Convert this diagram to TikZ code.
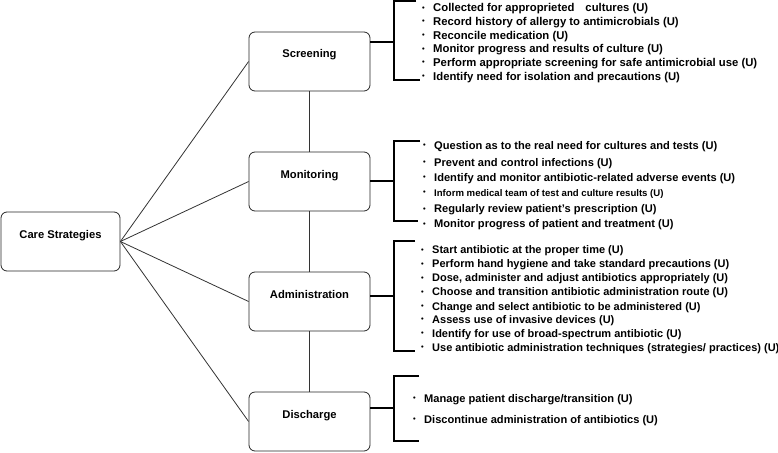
\documentclass[tikz,border=0pt]{standalone}
\usepackage{fontspec}
\setmainfont{Liberation Sans}
\tikzstyle{stage} = [rectangle, draw=black!85, line width=0.8pt, rounded corners=6pt, minimum width=121pt, minimum height=59pt, font=\bfseries\fontsize{11.2}{13}\selectfont, text height=8pt, text depth=15pt]
\tikzstyle{link} = [draw=black!80, line width=0.8pt]
\tikzstyle{bracket} = [line width=1.5pt]
\tikzstyle{items} = [anchor=north west, inner sep=0pt, align=left, font=\bfseries\fontsize{11.3}{13.7}\selectfont]
\newcommand{\itm}{\makebox[11pt][l]{\raisebox{1.5pt}{\fontsize{7.5}{7.5}\selectfont\textbullet}}}

\begin{document}
\begin{tikzpicture}[x=1pt,y=-1pt,node distance=120pt]
  \useasboundingbox (0,0) rectangle (778,452);
  \node[stage, minimum width=119pt] (CS) at (60.5,241.5) {Care Strategies};
  \node[stage] (Scr) at (309.5,61.5) {Screening};
  \node[stage] (Mon) [below of=Scr] {Monitoring};
  \node[stage] (Adm) [below of=Mon] {Administration};
  \node[stage] (Dis) [below of=Adm] {Discharge};

  \path[link] (CS.east) edge (Scr.west);
  \path[link] (CS.east) edge (Mon.west);
  \path[link] (CS.east) edge (Adm.west);
  \path[link] (CS.east) edge (Dis.west);
  \path[link] (Scr) edge (Mon);
  \path[link] (Mon) edge (Adm);
  \path[link] (Adm) edge (Dis);

  % item lists
  \node[items] (ScrList) at (422,3.3) {\itm Collected for approprieted\hspace{11pt}cultures (U)\\
    \itm Record history of allergy to antimicrobials (U)\\
    \itm Reconcile medication (U)\\
    \itm Monitor progress and results of culture (U)\\
    \itm Perform appropriate screening for safe antimicrobial use (U)\\
    \itm Identify need for isolation and precautions (U)};
  \node[items, font=\bfseries\fontsize{11.1}{15}\selectfont] (MonList) at (423,140.8) {\itm Question as to the real need for cultures and tests (U)\\[2pt]
    \itm Prevent and control infections (U)\\
    \itm Identify and monitor antibiotic-related adverse events (U)\\
    \itm {\fontsize{9.6}{12}\selectfont Inform medical team of test and culture results (U)}\\[1.5pt]
    \itm Regularly review patient's prescription (U)\\
    \itm Monitor progress of patient and treatment (U)};
  \node[items, font=\bfseries\fontsize{11}{14.1}\selectfont] (AdmList) at (421,245.5) {\itm Start antibiotic at the proper time (U)\\
    \itm Perform hand hygiene and take standard precautions (U)\\
    \itm Dose, administer and adjust antibiotics appropriately (U)\\
    \itm Choose and transition antibiotic administration route (U)\\
    \itm Change and select antibiotic to be administered (U)\\[-1pt]
    \itm Assess use of invasive devices (U)\\
    \itm Identify for use of broad-spectrum antibiotic (U)\\
    \itm Use antibiotic administration techniques (strategies/ practices) (U)};
  \node[items, font=\bfseries\fontsize{11.1}{21}\selectfont] (DisList) at (413,393.8) {\itm Manage patient discharge/transition (U)\\
    \itm Discontinue administration of antibiotics (U)};

  % brackets
  \coordinate (ScrBr) at (394,42);
  \coordinate (MonBr) at (394,181);
  \coordinate (AdmBr) at (394,296);
  \coordinate (DisBr) at (394,408);
  \draw[bracket] (Scr.east |- ScrBr) -- (ScrBr);
  \draw[bracket] (Mon.east |- MonBr) -- (MonBr);
  \draw[bracket] (Adm.east |- AdmBr) -- (AdmBr);
  \draw[bracket] (Dis.east |- DisBr) -- (DisBr);
  \draw[bracket] (416,1) -| (394,80) -- (420,80);
  \draw[bracket] (420,141) -| (394,221) -- (418,221);
  \draw[bracket] (415,241) -| (394,351) -- (415,351);
  \draw[bracket] (419,376) -| (394,441) -- (419,441);
\end{tikzpicture}
\end{document}
